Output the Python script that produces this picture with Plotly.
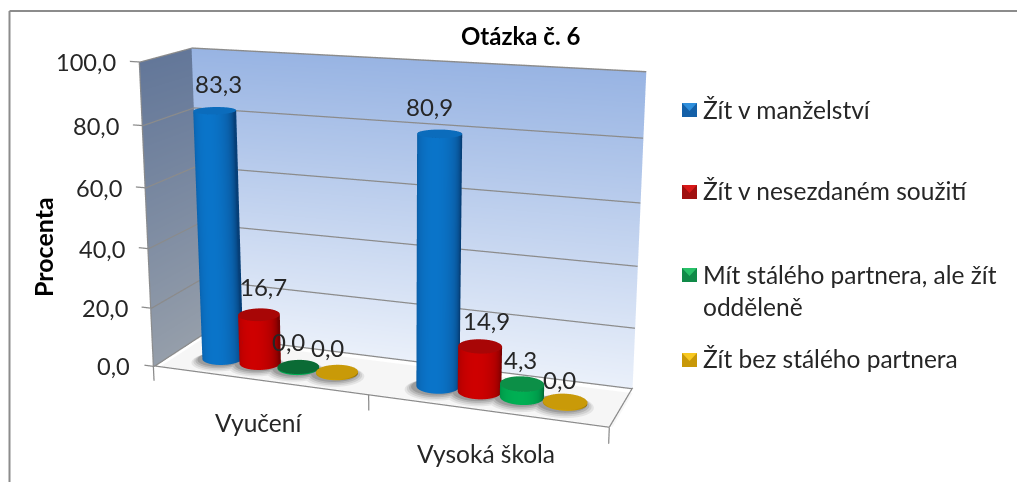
import numpy as np
import plotly.graph_objects as go

title = "Otázka č. 6"
axis_title = "Procenta"
categories = ["Vyučení", "Vysoká škola"]
series_names = ["Žít v manželství", "Žít v nesezdaném soužití", "Mít stálého partnera, ale žít<br>odděleně", "Žít bez stálého partnera"]
manzelstvi = [83.3, 80.9]
nesezdane = [16.7, 14.9]
oddelene = [0.0, 4.3]
bez_partnera = [0.0, 0.0]
series_values = [manzelstvi, nesezdane, oddelene, bez_partnera]
z_ticks = [0, 20, 40, 60, 80, 100]
z_tick_labels = ["0,0", "20,0", "40,0", "60,0", "80,0", "100,0"]

W = 1017
LH, TOP = 1208, 373   # the scene is taller than the window so that plotly's fixed 45 degree lens gives a long focal length
TEXT = "#262626"
FONT = "Lato"
LINE = "#8b8b8b"
NOLIGHT = dict(ambient=1, diffuse=0, specular=0, roughness=1, fresnel=0)
side_scales = [
    [[0, "#063f78"], [0.55, "#0a62ad"], [1, "#0a78cf"]],
    [[0, "#780000"], [0.55, "#b00000"], [1, "#d40000"]],
    [[0, "#006a33"], [0.55, "#009a4a"], [1, "#00b455"]],
    [[0, "#7f6000"], [0.55, "#b58a00"], [1, "#d8a400"]],
]
top_colors = ["#0b6cbc", "#a80606", "#0c8f47", "#c69a06"]
zero_colors = ["#0b6cbc", "#a80606", "#0b6b35", "#c99a08"]
legend_colors = [("#1460a8", "#2f8fdc"), ("#a01010", "#d81818"), ("#108a48", "#28c068"), ("#c89808", "#f8c820")]
shadow_rings = [(1.42, "#e4e4e4"), (1.32, "#cfcfcf"), (1.22, "#b6b6b6"), (1.12, "#9c9c9c")]

BW, BD = 0.045, 0.195
STEP = 0.0905
CENTERS = [0.253, 0.752]
DEPTH = 0.44
# label nudges in pixels, series by category
LABEL_DX = [[4, -10], [5, 6], [-10, -2], [-10, -6]]
LABEL_DY = [[1, 1], [0, 3], [3, 4], [4, 6]]

fig = go.Figure()
def flat(c):
    return dict(colorscale=[[0, c], [1, c]], cmin=0, cmax=1, showscale=False, hoverinfo="skip", lighting=NOLIGHT)

yy, zz = np.meshgrid([0, 1], np.linspace(0, 100, 21))
fig.add_trace(go.Surface(x=0 * yy, y=yy, z=zz, surfacecolor=zz, cmin=0, cmax=100, showscale=False, hoverinfo="skip",
    colorscale=[[0, "#959eaa"], [1, "#637799"]], lighting=NOLIGHT))
xx, zz = np.meshgrid([0, 1], np.linspace(0, 100, 21))
fig.add_trace(go.Surface(x=xx, y=0 * xx + 1, z=zz, surfacecolor=zz, cmin=0, cmax=100, showscale=False, hoverinfo="skip",
    colorscale=[[0, "#eaf0fa"], [1, "#98b4e3"]], lighting=NOLIGHT))
xx, yy = np.meshgrid([0, 1], [0.15, 1])
fig.add_trace(go.Surface(x=xx, y=yy, z=0 * xx - 1.6, surfacecolor=0 * xx, **flat("#f6f6f6")))

lx, ly, lz = [], [], []
def seg(*pts):
    for p in pts:
        lx.append(p[0]); ly.append(p[1]); lz.append(p[2])
    lx.append(None); ly.append(None); lz.append(None)
for t in z_ticks:
    seg((-0.022, 0, t), (0.002, 0, t), (0.002, 0.99, t), (1, 0.99, t))
seg((0, 0, 0), (0, 0, 100))
seg((0, 1, 100), (1, 1, 100))
seg((0, 0, 0.2), (1, 0, 0.2), (1, 1, 0.2))
for x0 in [0, 0.5, 1]:
    seg((x0, 0, 0), (x0, 0, -5))
fig.add_trace(go.Scatter3d(x=lx, y=ly, z=lz, mode="lines", line=dict(color=LINE, width=2.5), hoverinfo="skip", showlegend=False))

th = np.linspace(0, 2 * np.pi, 73)
annos = []
for s, vals in enumerate(series_values):
    for c, v in enumerate(vals):
        cx = CENTERS[c] + (s - 1.5) * STEP
        cy = DEPTH
        for k, (grow, col) in enumerate(shadow_rings):
            tg, rg = np.meshgrid(th, [0, 1.0])
            fig.add_trace(go.Surface(x=cx - 0.006 + BW * grow * rg * np.cos(tg), y=cy + BD * grow * rg * np.sin(tg),
                                     z=-1.3 + 0 * tg + 0.3 * k, surfacecolor=0 * tg, **flat(col)))
        top = max(v, 0.35)
        tg, zg = np.meshgrid(th, [0.0, top])
        shade = np.clip((-np.sin(tg)) * (0.9 + 0.1 * np.cos(tg)), 0, 1) ** 0.8
        fig.add_trace(go.Surface(x=cx + BW * np.cos(tg), y=cy + BD * np.sin(tg), z=zg, surfacecolor=shade, cmin=0, cmax=1,
                                 colorscale=side_scales[s], showscale=False, hoverinfo="skip", lighting=NOLIGHT))
        tg, rg = np.meshgrid(th, [0, 1])
        fig.add_trace(go.Surface(x=cx + BW * rg * np.cos(tg), y=cy + BD * rg * np.sin(tg), z=top + 0 * tg,
                                 surfacecolor=0 * tg, **flat(top_colors[s] if v > 0 else zero_colors[s])))
        annos.append(dict(x=cx, y=cy, z=top, text=f"{v:.1f}".replace(".", ","), showarrow=False, xanchor="center",
                          yanchor="bottom", xshift=LABEL_DX[s][c], yshift=12 - LABEL_DY[s][c],
                          font=dict(family=FONT, size=24, color=TEXT)))

for t, lab in zip(z_ticks, z_tick_labels):
    annos.append(dict(x=0, y=0, z=t, text=lab, showarrow=False, xanchor="right", yanchor="middle", xshift=-21,
                      font=dict(family=FONT, size=23.6, color=TEXT)))
for c, lab in enumerate(categories):
    annos.append(dict(x=0.25 + 0.5 * c, y=0, z=0, text=lab, showarrow=False, xanchor="center", yanchor="middle", yshift=-42,
                      font=dict(family=FONT, size=24.5, color=TEXT)))

def px(x): return x / W
def py(y): return 1 - (y + TOP) / LH
paper = [
    dict(x=px(520), y=py(36), xref="paper", yref="paper", xanchor="center", yanchor="middle", text=f"<b>{title}</b>", showarrow=False,
         font=dict(family=FONT, size=24, color="#000000")),
    dict(x=px(43), y=py(247), xref="paper", yref="paper", xanchor="center", yanchor="middle", text=f"<b>{axis_title}</b>", showarrow=False, textangle=-90,
         font=dict(family=FONT, size=25, color="#000000")),
]
legend_y = [109, 190, 290, 358]
shapes = [dict(type="line", xref="paper", yref="paper", x0=px(9.5), y0=py(482), x1=px(9.5), y1=py(11), line=dict(color="#8c8c8c", width=2)),
          dict(type="line", xref="paper", yref="paper", x0=px(9.5), y0=py(11), x1=px(1017), y1=py(11), line=dict(color="#8c8c8c", width=2))]
for name, y in zip(series_names, legend_y):
    paper.append(dict(x=px(700.5), y=py(y), xref="paper", yref="paper", xanchor="left", yanchor="middle", align="left",
                      text=name, showarrow=False, font=dict(family=FONT, size=24.5, color=TEXT)))
for k, (dark, light) in enumerate(legend_colors):
    y = [110, 192, 275, 360][k]
    shapes.append(dict(type="rect", xref="paper", yref="paper", x0=px(682), x1=px(697), y0=py(y - 7), y1=py(y + 7),
                       fillcolor=dark, line=dict(width=0)))
    shapes.append(dict(type="path", xref="paper", yref="paper",
                       path=f"M {px(682)} {py(y-7)} L {px(697)} {py(y-7)} L {px(689.5)} {py(y+1)} Z",
                       fillcolor=light, line=dict(width=0)))

hidden = dict(visible=False, showspikes=False)
fig.update_layout(
    width=W, height=LH, margin=dict(l=0, r=0, t=0, b=0), paper_bgcolor="white", showlegend=False,
    annotations=paper, shapes=shapes,
    scene=dict(
        domain=dict(x=[0, 802 / W], y=[0, 1]),
        xaxis=dict(range=[-0.1, 1.1], **hidden), yaxis=dict(range=[-0.1, 1.1], **hidden), zaxis=dict(range=[-10, 110], **hidden),
        aspectmode="manual", aspectratio=dict(x=2.64, y=0.5958, z=1.7455),
        camera=dict(eye=dict(x=2.2572, y=-5.988, z=1.6757), center=dict(x=0.0587, y=0.0157, z=-0.0206),
                    up=dict(x=0, y=0, z=1), projection=dict(type="perspective")),
        annotations=annos, dragmode=False),
)
fig.write_html("out.html", config=dict(displayModeBar=False),
               post_script=f"document.documentElement.style.overflow='hidden';document.body.style.overflow='hidden';document.body.style.margin='0';document.getElementsByClassName('plotly-graph-div')[0].style.marginTop='-{TOP}px';")
